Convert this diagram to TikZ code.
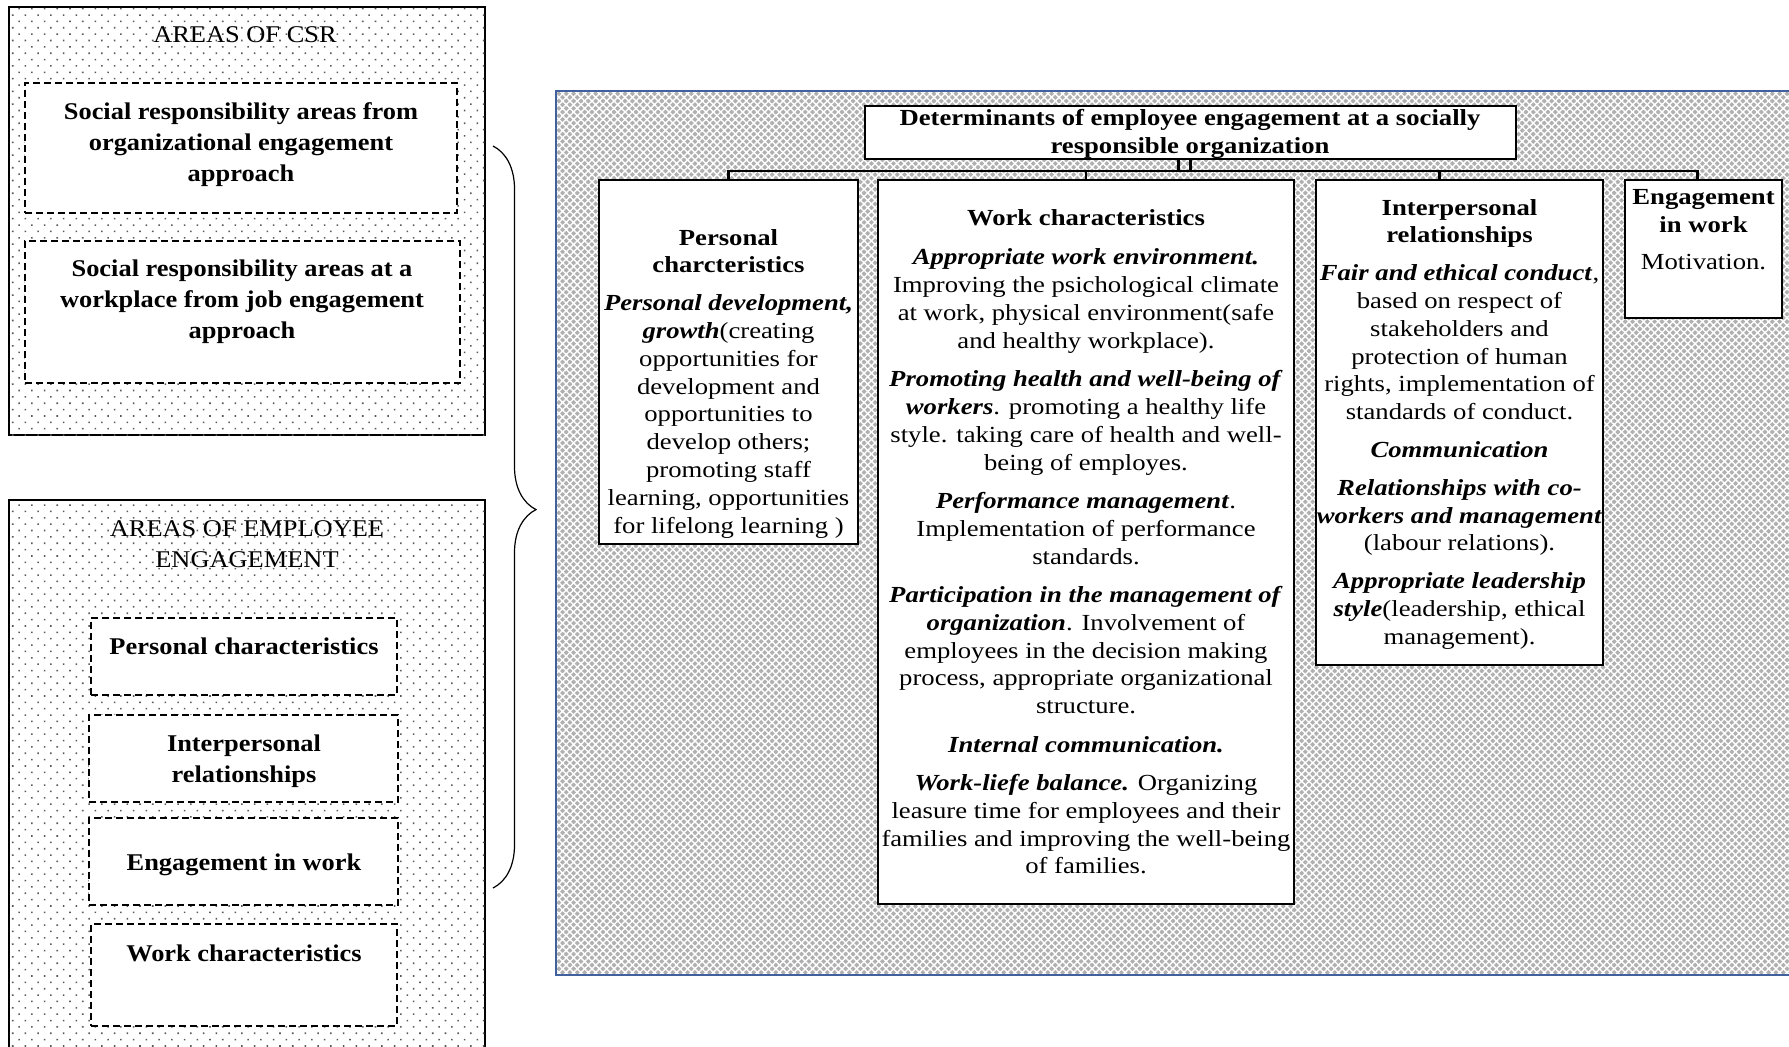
\documentclass[tikz,border=0pt]{standalone}
\usepackage{fontspec}
\setmainfont{Liberation Serif}
\newfontfamily\leftfnt[FakeStretch=1.1]{Liberation Serif}
\newfontfamily\rightfnt[FakeStretch=1.16]{Liberation Serif}
\usetikzlibrary{positioning,fit,patterns.meta,decorations.pathreplacing}

\definecolor{frameblue}{HTML}{41609E}

\tikzset{
  areabox/.style={draw=black, line width=1.1pt, inner sep=0pt, fill=white,
    postaction={pattern color=black!65, pattern={Dots[distance=4.5pt,radius=0.55pt,angle=45]}}},
  dashbox/.style={draw=black, line width=0.9pt, dash pattern=on 3.5pt off 2pt, fill=white, inner sep=0pt},
  detbox/.style={draw=frameblue, line width=1.2pt, inner sep=0pt, preaction={fill=gray!62},
    pattern color=white, pattern={Hatch[angle=45,distance=2.6pt,line width=0.7pt]}},
  whitebox/.style={draw=black, line width=1.2pt, fill=white, inner sep=0pt},
  ltext/.style={font=\leftfnt\fontsize{12}{15.5}\selectfont, align=center, inner sep=0pt},
  lbold/.style={ltext, font=\leftfnt\bfseries\fontsize{12}{15.5}\selectfont},
  rtext/.style={font=\rightfnt\fontsize{11.5}{13.9}\selectfont, align=center, inner sep=0pt},
  rbold/.style={rtext, font=\rightfnt\bfseries\fontsize{11.5}{13.7}\selectfont},
  conn/.style={draw=black, line width=1.1pt},
}

\begin{document}
\begin{tikzpicture}[x=0.5pt,y=-0.5pt]
%\draw [lightgray] (0,0) grid[step=100] (1789,1046);
\useasboundingbox (0,0) rectangle (1789,1046);

\node[areabox, fit={(9,7) (485,435)}] (csr) {}; % areas of CSR
\node[dashbox, fit={(25,83) (457,213)}] (csrorg) {};
\node[dashbox, fit={(25,241) (460,383)}] (csrjob) {};

\node[areabox, fit={(9,500) (485,1060)}] (empl) {}; % areas of employee engagement
\node[dashbox, fit={(91,618) (397,695)}] (epers) {};
\node[dashbox, fit={(89,715) (398,802)}] (einter) {};
\node[dashbox, fit={(89,818) (398,905)}] (ework) {};
\node[dashbox, fit={(91,924) (397,1026)}] (echar) {};

\node[ltext] (csrt) at (245,35) {AREAS OF CSR};
\node[lbold] (csrorgt) at (241,145) {Social responsibility areas from\\organizational engagement\\approach};
\node[lbold] (csrjobt) at (242,302) {Social responsibility areas at a\\workplace from job engagement\\approach};
\node[ltext] (emplt) at (247,544) {AREAS OF EMPLOYEE\\ENGAGEMENT};
\node[lbold] (eperst) at (244,646) {Personal characteristics};
\node[lbold] (eintert) at (244,761) {Interpersonal\\relationships};
\node[lbold] (eworkt) at (244,865) {Engagement in work};
\node[lbold] (echart) at (244,953) {Work characteristics};

% brace
\coordinate (bt) at (493,146);
\coordinate (bb) at (493,888);
\draw[line width=0.6pt, decorate, decoration={brace, amplitude=21.5pt, aspect=0.49}] (bt) -- (bb);

\node[detbox, fit={(556,91) (1800,975)}] (det) {}; % determinants
\node[whitebox, fit={(865,106) (1516,159)}] (ttl) {};
\node[whitebox, fit={(599,180) (858,544)}] (pers) {};
\node[whitebox, fit={(878,180) (1294,904)}] (work) {};
\node[whitebox, fit={(1316,180) (1603,665)}] (intp) {};
\node[whitebox, fit={(1625,180) (1782,318)}] (eng) {};

\coordinate (bus) at (728,171);
\draw[conn] (pers.north) -- (pers.north |- bus) -- ([xshift=-3pt]eng.north |- bus) -- ([xshift=-3pt]eng.north);
\draw[conn] (work.north) -- (work.north |- bus);
\draw[conn] ([xshift=-10pt]intp.north) -- ([xshift=-10pt]intp.north |- bus);
\draw[conn] ([xshift=-6pt]ttl.south) -- ([xshift=-6pt]ttl.south |- bus);
\draw[conn] (ttl.south) -- (ttl.south |- bus);

\node[rbold] (ttlt) at (1190,134) {Determinants of employee engagement at a socially\\responsible organization};

\node[rtext, below=25pt of pers.north] (perst) {\textbf{Personal}\\\textbf{charcteristics}\\[5pt]
  \textbf{\textit{Personal development,}}\\\textbf{\textit{growth}}(creating\\opportunities for\\development and\\
  opportunities to\\develop others;\\promoting staff\\learning, opportunities\\for lifelong learning )};

\node[rtext, below=15pt of work.north] (workt) {\textbf{Work characteristics}\\[6pt]
  \textbf{\textit{Appropriate work environment.}}\\Improving the psichological climate\\
  at work, physical environment(safe\\and healthy workplace).\\[5.3pt]
  \textbf{\textit{Promoting health and well-being of}}\\\textbf{\textit{workers}}. promoting a healthy life\\
  style. taking care of health and well-\\being of employes.\\[5.3pt]
  \textbf{\textit{Performance management}}.\\Implementation of performance\\standards.\\[5.3pt]
  \textbf{\textit{Participation in the management of}}\\\textbf{\textit{organization}}. Involvement of\\
  employees in the decision making\\process, appropriate organizational\\structure.\\[5.3pt]
  \textbf{\textit{Internal communication.}}\\[5.3pt]
  \textbf{\textit{Work-liefe balance.}} Organizing\\leasure time for employees and their\\
  families and improving the well-being\\of families.};

\node[rtext, below=10pt of intp.north] (intpt) {\textbf{Interpersonal}\\\textbf{relationships}\\[5pt]
  \textbf{\textit{Fair and ethical conduct}},\\based on respect of\\stakeholders and\\protection of human\\
  rights, implementation of\\standards of conduct.\\[5pt]
  \textbf{\textit{Communication}}\\[5pt]
  \textbf{\textit{Relationships with co-}}\\\textbf{\textit{workers and management}}\\(labour relations).\\[5pt]
  \textbf{\textit{Appropriate leadership}}\\\textbf{\textit{style}}(leadership, ethical\\management).};

\node[rtext, below=5pt of eng.north] (engt) {\textbf{Engagement}\\\textbf{in work}\\[5pt]Motivation.};

\end{tikzpicture}
\end{document}
